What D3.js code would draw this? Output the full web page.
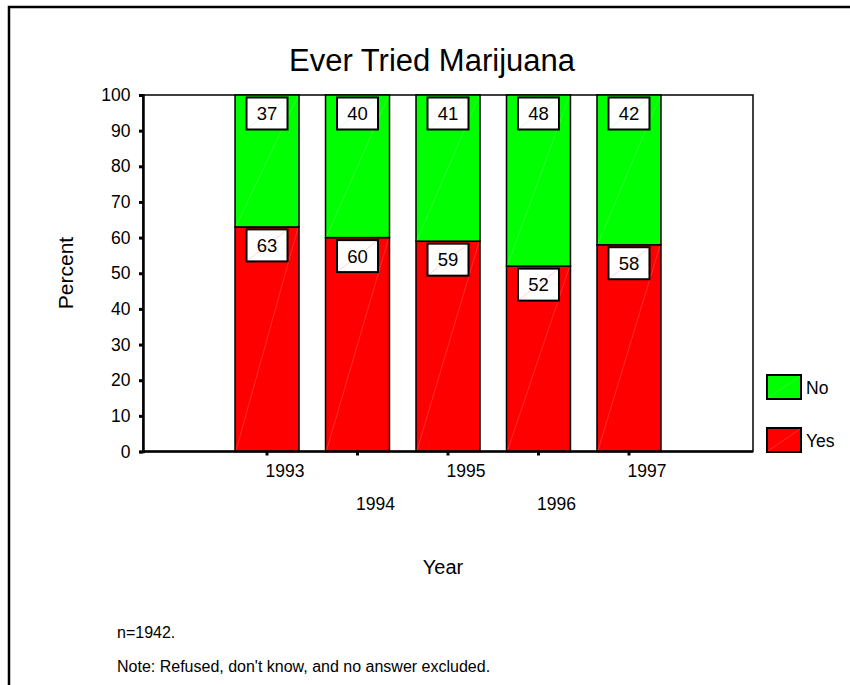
<!DOCTYPE html>
<html>
<head>
<meta charset="utf-8">
<script src="https://cdn.jsdelivr.net/npm/d3@7"></script>
<style>
  body { margin: 0; background: #fff; }
  svg { display: block; font-family: "Liberation Sans", Arial, sans-serif; }
</style>
</head>
<body>
<svg id="chart" width="850" height="685"></svg>
<script>
// Survey responses by year (percent)
const years = ["1993", "1994", "1995", "1996", "1997"];
const yesPct = [63, 60, 59, 52, 58];
const noPct = [37, 40, 41, 48, 42];
const seriesKeys = ["Yes", "No"];
const seriesColors = ["#ff0000", "#00ff00"];
const yTicks = [0, 10, 20, 30, 40, 50, 60, 70, 80, 90, 100];

const titleText = "Ever Tried Marijuana";
const yTitle = "Percent";
const xTitle = "Year";
const sampleNote = "n=1942.";
const exclusionNote = "Note: Refused, don't know, and no answer excluded.";

const rows = years.map((y, i) => ({ year: y, Yes: yesPct[i], No: noPct[i] }));
const stacked = d3.stack().keys(seriesKeys)(rows);

const svg = d3.select("#chart");
const plot = { left: 143, right: 753, top: 95, bottom: 451.5 };

// outer frame (top and left edges)
svg.append("path")
  .attr("d", "M850,7H9V685")
  .attr("fill", "none").attr("stroke", "#000").attr("stroke-width", 2.5);

const x = d3.scaleBand().domain(years)
  .range([plot.left, plot.right])
  .paddingInner(0.293).paddingOuter(1.017);
const y = d3.scaleLinear().domain([0, 100]).range([plot.bottom, plot.top]);
const color = d3.scaleOrdinal().domain(seriesKeys).range(seriesColors);

// plot frame
svg.append("rect")
  .attr("x", plot.left).attr("y", plot.top)
  .attr("width", plot.right - plot.left).attr("height", plot.bottom - plot.top)
  .attr("fill", "#fff").attr("stroke", "#000").attr("stroke-width", 1.5);

// stacked bars
const layers = svg.append("g").selectAll("g").data(stacked).join("g")
  .attr("fill", d => color(d.key));

layers.selectAll("rect").data(d => d).join("rect")
  .attr("x", d => x(d.data.year))
  .attr("y", d => y(d[1]))
  .attr("width", x.bandwidth())
  .attr("height", d => y(d[0]) - y(d[1]))
  .attr("stroke", "#000").attr("stroke-width", 1.5);

// faint diagonal sheen across each segment
layers.selectAll("line").data(d => d).join("line")
  .attr("x1", d => x(d.data.year) + 1).attr("y1", d => y(d[0]) - 1)
  .attr("x2", d => x(d.data.year) + x.bandwidth() - 1).attr("y2", d => y(d[1]) + 1)
  .attr("stroke", "#fff").attr("stroke-opacity", 0.25).attr("stroke-width", 0.7);

// value boxes
const boxW = 41, boxH = 32;
const labels = svg.append("g").selectAll("g")
  .data(stacked.flatMap(s => s.map(d => ({ key: s.key, d }))))
  .join("g")
  .attr("transform", o => `translate(${x(o.d.data.year) + x.bandwidth() / 2 - boxW / 2},${y(o.d[1]) + 2.5})`);

labels.append("rect")
  .attr("width", boxW).attr("height", boxH)
  .attr("fill", "#fff").attr("stroke", "#000").attr("stroke-width", 2);
labels.append("line")
  .attr("x1", 1).attr("y1", boxH - 1).attr("x2", boxW - 1).attr("y2", 1)
  .attr("stroke", o => color(o.key)).attr("stroke-opacity", 0.25).attr("stroke-width", 0.7);
labels.append("text")
  .attr("x", boxW / 2).attr("y", boxH / 2 + 6.5)
  .attr("text-anchor", "middle").attr("font-size", 18.5).attr("fill", "#000")
  .text(o => d3.format("d")(o.d.data[o.key]));

// y axis
const yAxis = svg.append("g")
  .attr("transform", `translate(${plot.left},0)`)
  .call(d3.axisLeft(y).tickValues(yTicks).tickSize(4).tickPadding(8.5));
yAxis.select(".domain").attr("stroke", "#000").attr("stroke-width", 2.5);
yAxis.selectAll(".tick line").attr("stroke", "#000").attr("stroke-width", 3);
yAxis.selectAll(".tick text")
  .attr("font-size", 17.5).attr("font-family", "Liberation Sans, Arial, sans-serif").attr("fill", "#000");

// x axis with staggered labels
const xAxis = svg.append("g")
  .attr("transform", `translate(0,${plot.bottom})`)
  .call(d3.axisBottom(x).tickSize(4).tickSizeOuter(0));
xAxis.select(".domain").attr("stroke", "#000").attr("stroke-width", 2.5)
  .attr("d", `M${plot.left - 1},0H${plot.right}`);
xAxis.selectAll(".tick line").attr("stroke", "#000").attr("stroke-width", 3);
xAxis.selectAll(".tick text")
  .attr("font-size", 17.5).attr("font-family", "Liberation Sans, Arial, sans-serif").attr("fill", "#000")
  .attr("text-anchor", "start").attr("x", -1.5).attr("dy", null)
  .attr("y", (d, i) => i % 2 === 0 ? 25.5 : 58.5);

// legend
const legendItems = ["No", "Yes"];
const legendTop = [375, 428];
const legend = svg.append("g").selectAll("g").data(legendItems).join("g")
  .attr("transform", (d, i) => `translate(767,${legendTop[i]})`);
legend.append("rect")
  .attr("width", 34).attr("height", 24)
  .attr("fill", d => color(d)).attr("stroke", "#000").attr("stroke-width", 2);
legend.append("line")
  .attr("x1", 1).attr("y1", 23).attr("x2", 33).attr("y2", 1)
  .attr("stroke", "#fff").attr("stroke-opacity", 0.25).attr("stroke-width", 0.7);
legend.append("text")
  .attr("x", 39).attr("y", 18.5).attr("font-size", 17.5).attr("fill", "#000")
  .text(d => d);

// titles and notes
svg.append("text").attr("x", 432).attr("y", 71).attr("text-anchor", "middle")
  .attr("font-size", 31).text(titleText);
svg.append("text").attr("transform", "translate(73,273) rotate(-90)")
  .attr("text-anchor", "middle").attr("font-size", 21).text(yTitle);
svg.append("text").attr("x", 443).attr("y", 574).attr("text-anchor", "middle")
  .attr("font-size", 20).text(xTitle);
svg.append("text").attr("x", 117).attr("y", 638).attr("font-size", 16).text(sampleNote);
svg.append("text").attr("x", 117).attr("y", 672).attr("font-size", 16).text(exclusionNote);
</script>
</body>
</html>
